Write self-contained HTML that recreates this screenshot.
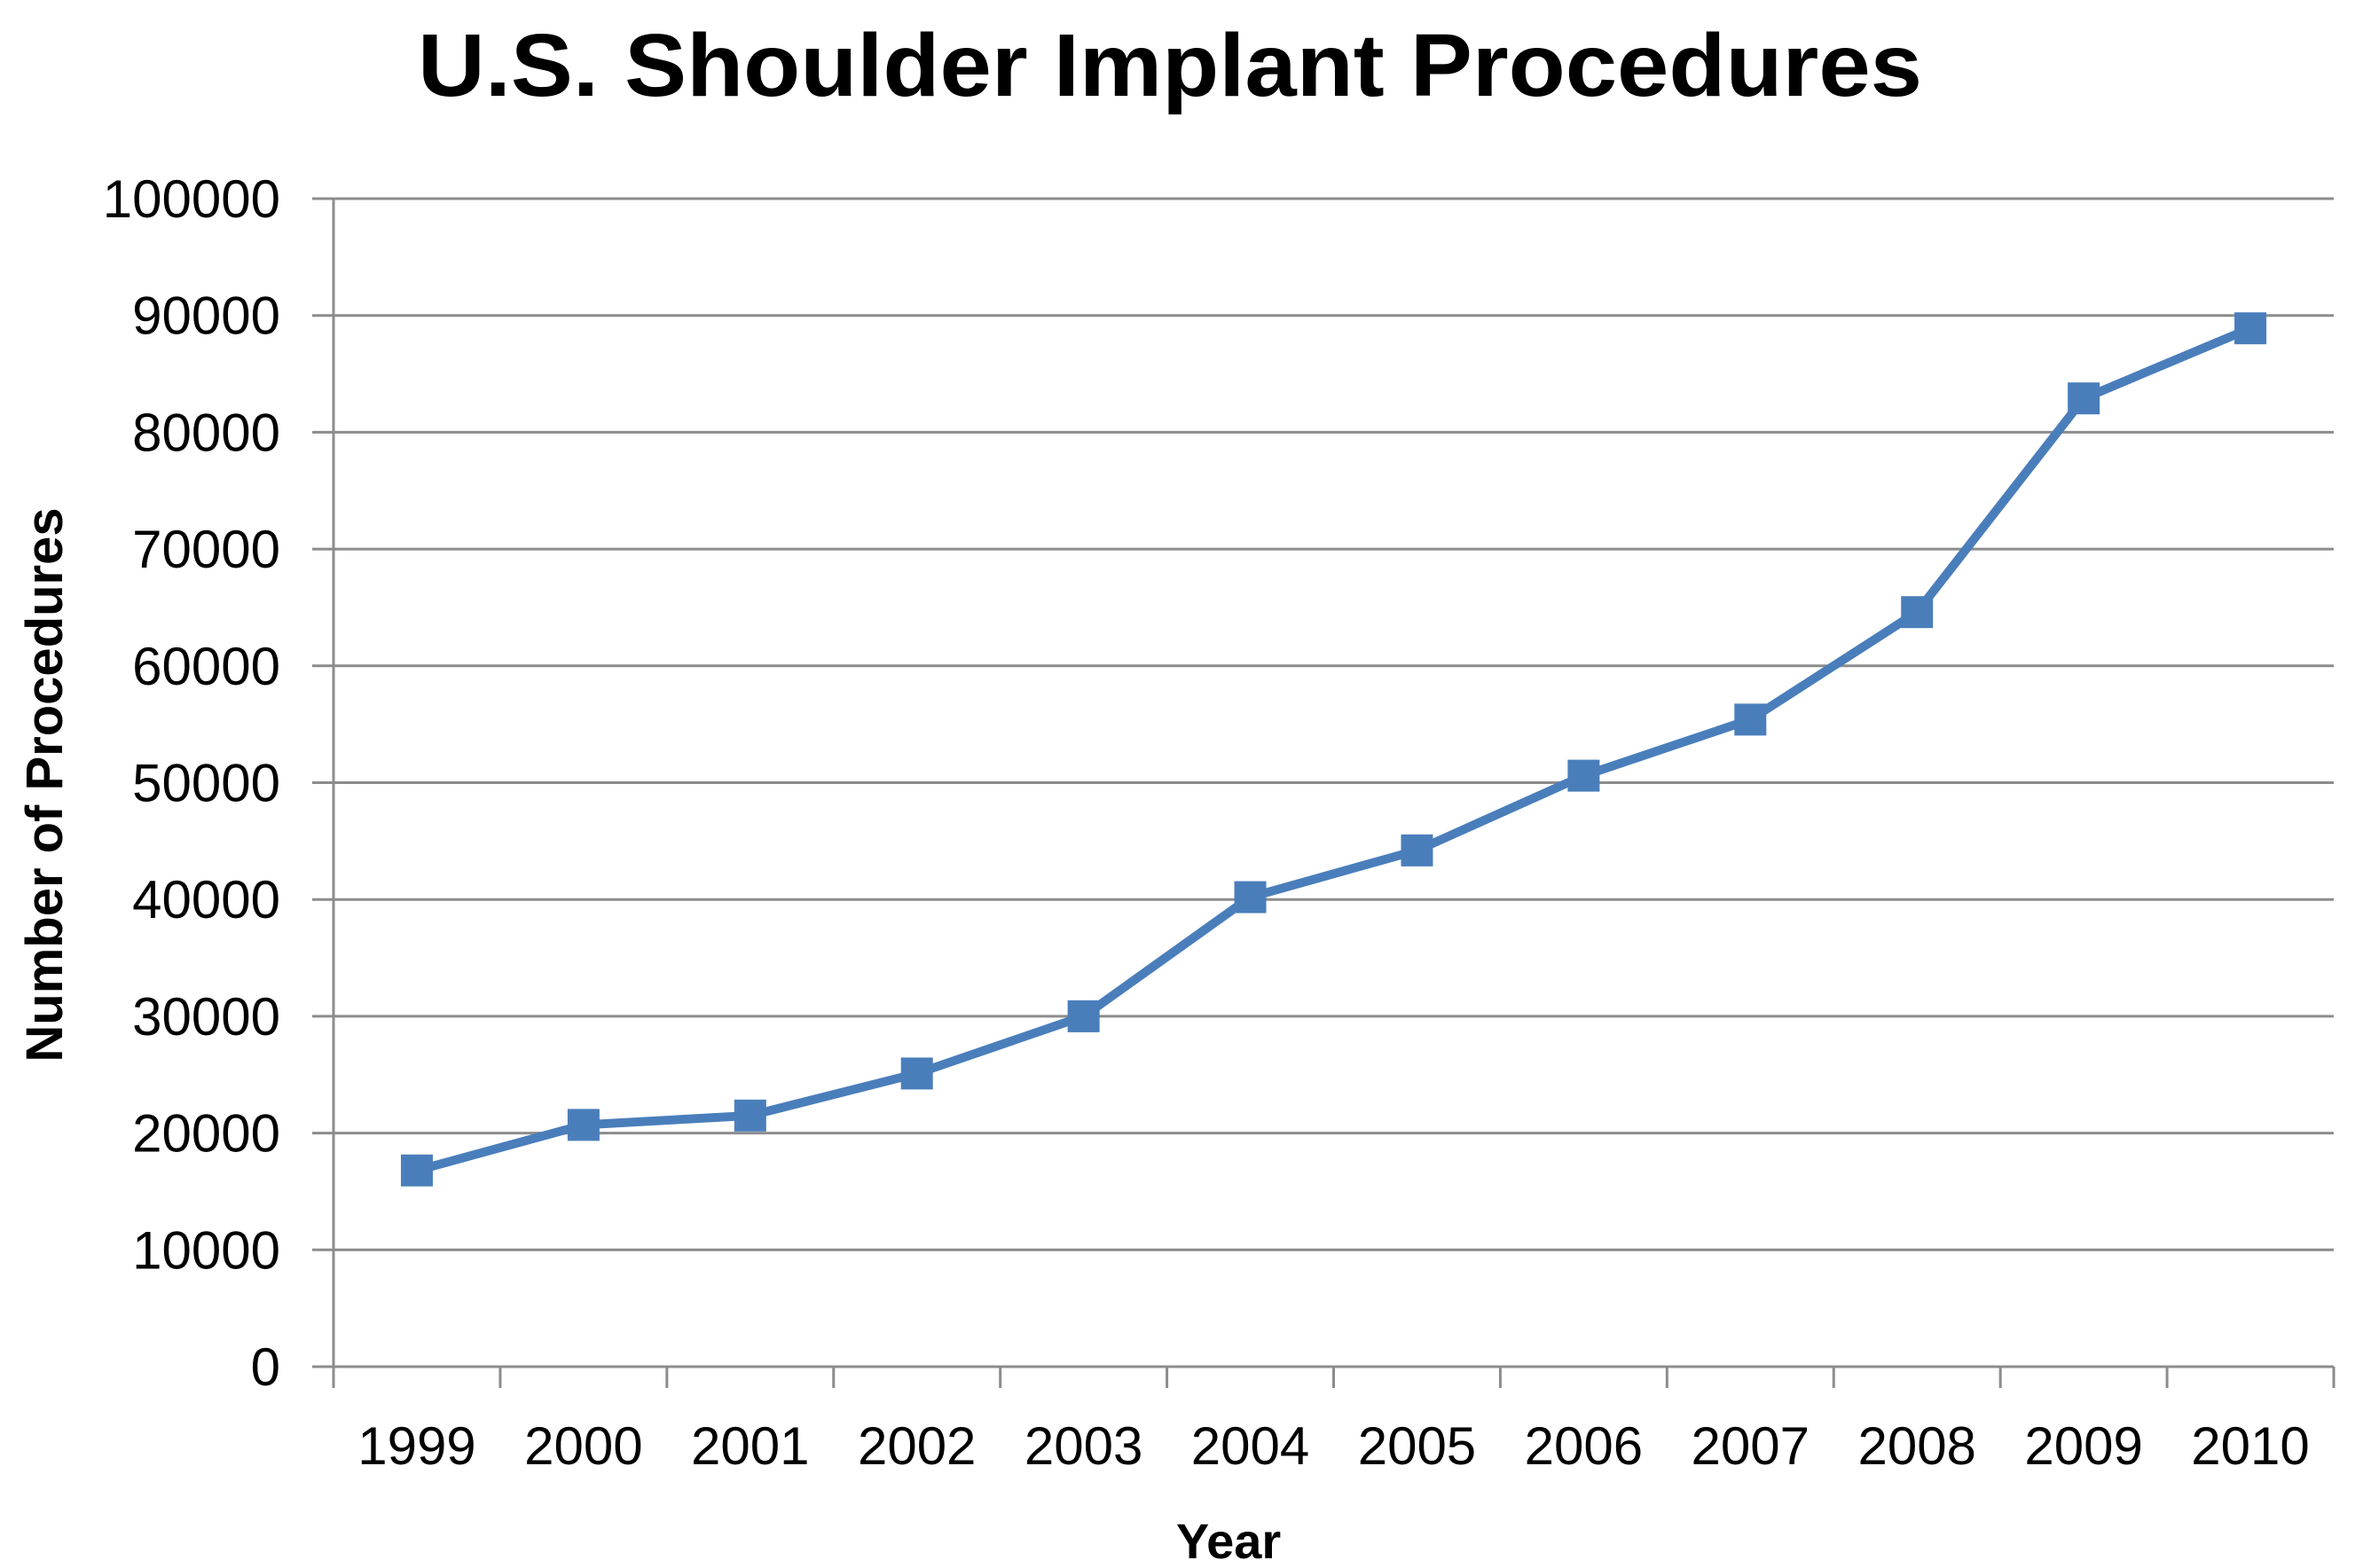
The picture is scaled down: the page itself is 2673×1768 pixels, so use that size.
<!DOCTYPE html>
<html><head><meta charset="utf-8"><style>
html,body{margin:0;padding:0;background:#fff;}
svg{display:block;}
text{font-family:"Liberation Sans",sans-serif;fill:#000;}
</style></head><body>
<svg id="chart" width="2673" height="1768" viewBox="0 0 2673 1768" xmlns="http://www.w3.org/2000/svg">
<text x="1319" y="108" text-anchor="middle" font-size="100" font-weight="bold" textLength="1696" lengthAdjust="spacingAndGlyphs">U.S. Shoulder Implant Procedures</text>
<g id="grid"></g>
<g id="axes"></g>
<g id="series"></g>
<text transform="translate(70,885) rotate(-90)" text-anchor="middle" font-size="58" font-weight="bold">Number of Procedures</text>
<text x="1385" y="1757" text-anchor="middle" font-size="56" font-weight="bold">Year</text>
</svg>
<script>
const categories = ["1999","2000","2001","2002","2003","2004","2005","2006","2007","2008","2009","2010"];
const procedures = [16800,20700,21500,25100,30000,40200,44200,50600,55400,64600,82900,88900];
const yTicks = [0,10000,20000,30000,40000,50000,60000,70000,80000,90000,100000];

const NS = "http://www.w3.org/2000/svg";
const L = 376, R = 2631, T = 224, B = 1541, YMAX = 100000;
const band = (R - L) / categories.length;
const xPos = i => L + band * (i + 0.5);
const yPos = v => B - (v / YMAX) * (B - T);
function mk(tag, attrs, parent) {
  const e = document.createElementNS(NS, tag);
  for (const k in attrs) e.setAttribute(k, attrs[k]);
  parent.appendChild(e);
  return e;
}
const grid = document.getElementById('grid');
const axes = document.getElementById('axes');
const series = document.getElementById('series');

yTicks.forEach(v => {
  const y = yPos(v);
  const ln = mk('line', {x1: L - 24, x2: R, y1: y, y2: y, stroke: '#8c8c8c', 'stroke-width': 3}, grid);
  
  
  const t = mk('text', {x: 316, y: y + 21, 'text-anchor': 'end', 'font-size': 60}, axes);
  t.textContent = String(v);
  
  
});
const yAxis = mk('line', {x1: L, x2: L, y1: T, y2: B, stroke: '#8c8c8c', 'stroke-width': 3}, axes);


for (let i = 0; i <= categories.length; i++) {
  const x = L + band * i;
  const tk = mk('line', {x1: x, x2: x, y1: B, y2: B + 24, stroke: '#8c8c8c', 'stroke-width': 3}, axes);
  
  
}
categories.forEach((c, i) => {
  const t = mk('text', {x: xPos(i), y: 1651, 'text-anchor': 'middle', 'font-size': 60}, axes);
  t.textContent = c;
  
  
});
const pts = procedures.map((v, i) => xPos(i) + ',' + yPos(v)).join(' ');
const line = mk('polyline', {points: pts, fill: 'none', stroke: '#4a7ebb', 'stroke-width': 10, 'stroke-linejoin': 'round'}, series);


procedures.forEach((v, i) => {
  const s = 36;
  const m = mk('rect', {x: xPos(i) - s / 2, y: yPos(v) - s / 2, width: s, height: s, fill: '#4a7ebb'}, series);
  
  
});
</script>
</body></html>
